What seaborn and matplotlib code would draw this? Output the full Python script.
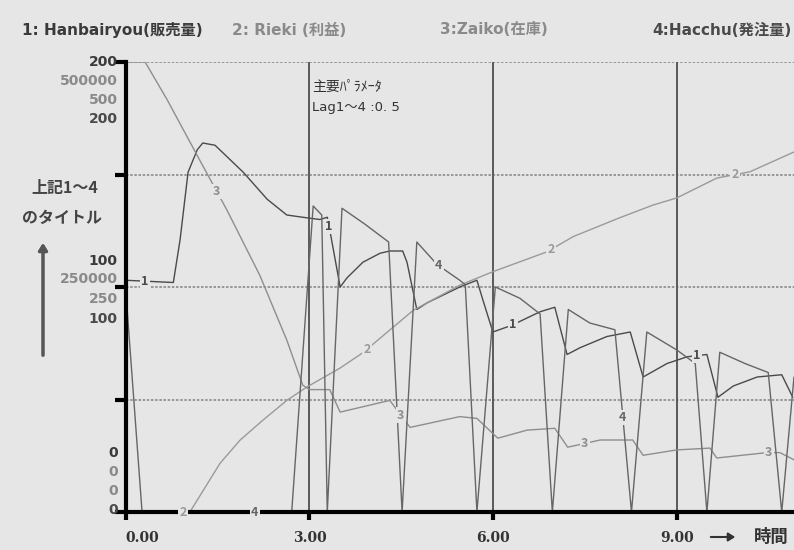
import matplotlib
matplotlib.use("Agg")
import matplotlib.pyplot as plt
import numpy as np
import pandas as pd
import seaborn as sns

# --- data (time, value in each series' own scale) ---
hanbai_t = [0.0, 0.78, 0.89, 1.02, 1.17, 1.26, 1.46, 1.92, 2.31, 2.63, 2.89, 3.17, 3.29, 3.34,
            3.50, 3.61, 3.87, 4.15, 4.31, 4.52, 4.59, 4.75, 4.92, 5.45, 5.73, 5.83, 5.99, 6.30,
            6.76, 7.00, 7.20, 7.41, 7.85, 8.23, 8.44, 8.83, 9.16, 9.48, 9.66, 9.91, 10.30, 10.70, 10.88]
hanbai_v = [103, 102, 121, 151, 161, 164, 163, 151, 139, 132, 131, 130, 131, 124,
            100, 104, 111, 115, 116, 116, 111, 90, 93, 100, 103, 94, 80, 83,
            89, 91, 70, 73, 78, 80, 60, 66, 69, 70, 51, 56, 60, 61, 51]

rieki_t = [0.0, 1.05, 1.54, 1.87, 2.24, 2.63, 2.96, 3.50, 3.87, 4.69, 5.45, 5.99, 6.87,
           7.30, 8.06, 8.60, 8.99, 9.64, 10.18, 10.90]
rieki_v = [0, 0, 54000, 80000, 102000, 124000, 139000, 160000, 177000, 224000, 252000, 267000, 289000,
           306000, 327000, 341000, 349000, 371000, 378000, 400000]

zaiko_t = [0.0, 0.32, 0.68, 1.21, 1.65, 2.19, 2.63, 2.89, 3.00, 3.33, 3.50, 4.31, 4.64, 5.45,
           5.73, 6.07, 6.55, 7.00, 7.21, 7.74, 8.27, 8.44, 8.99, 9.53, 9.64, 10.46, 10.67, 10.90]
zaiko_v = [500, 500, 458, 391, 336, 263, 191, 141, 136, 136, 111, 124, 94, 106,
           104, 82, 91, 93, 72, 80, 80, 63, 69, 71, 60, 66, 66, 58]

hacchu_t = [0.0, 0.27, 2.71, 3.06, 3.20, 3.29, 3.53, 3.90, 4.29, 4.51, 4.75, 5.08, 5.45, 5.54,
            5.73, 6.03, 6.43, 6.76, 6.96, 7.22, 7.57, 7.98, 8.25, 8.50, 8.99, 9.29, 9.48, 9.69,
            10.10, 10.48, 10.70, 10.90]
hacchu_v = [100, 0, 0, 136, 132, 0, 135, 128, 120, 0, 120, 110, 103, 101,
            0, 100, 95, 88, 0, 90, 84, 81, 0, 80, 72, 66, 0, 71,
            66, 62, 0, 60]

series_names = ["1: Hanbairyou(販売量)", "2: Rieki (利益)", "3:Zaiko(在庫)", "4:Hacchu(発注量)"]
scale_max = [200, 500000, 500, 200]
scale_mid = ["100", "250000", "250", "100"]
label_start = [0.32, 0.94, 1.49, 2.11]   # first "1".."4" marker on each line
time_ticks = [0, 3, 6, 9]

BG = "#e6e6e6"
line_colors = ["#4a4a4a", "#9a9a9a", "#8e8e8e", "#666666"]
text_colors = ["#3a3a3a", "#8a8a8a", "#8a8a8a", "#4a4a4a"]
MIXED = ["DejaVu Sans", "Noto Sans CJK JP"]

sns.set_theme(style="white")
plt.rcParams["font.family"] = ["Noto Sans CJK JP", "DejaVu Sans"]

fig = plt.figure(figsize=(7.94, 5.5), dpi=100, facecolor=BG)
ax = fig.add_axes([125.5 / 794, 38 / 550, (794 - 125.5) / 794, 450 / 550])
ax.set_facecolor(BG)

series = [(hanbai_t, hanbai_v), (rieki_t, rieki_v), (zaiko_t, zaiko_v), (hacchu_t, hacchu_v)]
xmax = (794 - 125.5) / 61.33

# grid first
for y in [0.25, 0.5, 0.75, 1.0]:
    ax.axhline(y, color="#8a8a8a", lw=1.2, ls=(0, (1.5, 1)), zorder=1)
for t in [3, 6, 9]:
    ax.axvline(t, color="#5a5a5a", lw=1.4, zorder=1)

for i, (t, v) in enumerate(series):
    df = pd.DataFrame({"t": t, "frac": np.array(v, dtype=float) / scale_max[i]})
    sns.lineplot(data=df, x="t", y="frac", ax=ax, color=line_colors[i], lw=1.0,
                 estimator=None, sort=False, zorder=2)
    lt = label_start[i]
    while lt < xmax:
        ly = np.interp(lt, t, v) / scale_max[i]
        ax.text(lt, ly, str(i + 1), ha="center", va="center", fontsize=9, fontweight="bold",
                color=line_colors[i], zorder=4,
                bbox=dict(boxstyle="square,pad=0.1", fc=BG, ec="none"))
        lt += 3

ax.set_xlim(0, xmax)
ax.set_ylim(0, 1)
for s in ["top", "right"]:
    ax.spines[s].set_visible(False)
for s in ["left", "bottom"]:
    ax.spines[s].set_color("black")
    ax.spines[s].set_linewidth(3)
ax.set_xlabel("")
ax.set_ylabel("")

ax.set_yticks([0, 0.25, 0.5, 0.75, 1.0])
ax.set_yticklabels([])
ax.tick_params(axis="y", left=True, length=8, width=3, color="black")
ax.set_xticks(time_ticks)
ax.set_xticklabels([f"{t:.2f}" for t in time_ticks], fontsize=10, fontweight="bold",
                   color="#333333", family="DejaVu Serif")
ax.tick_params(axis="x", bottom=True, length=6, width=3, color="black", pad=8)
ax.get_xticklabels()[0].set_horizontalalignment("left")

# stacked scale labels on the y axis (one per series)
ytr = ax.get_yaxis_transform()
top_off = [0, -14, -27.5, -41]
mid_off = [18.5, 6, -8.5, -23]
bot_off = [42.5, 29, 15, 1.5]
for i in range(4):
    for val, yy, offs in [(str(scale_max[i]), 1.0, top_off), (scale_mid[i], 0.5, mid_off),
                          ("0", 0.0, bot_off)]:
        ax.annotate(val, xy=(0, yy), xycoords=ytr, xytext=(-5.5, offs[i]),
                    textcoords="offset points", ha="right", va="center", fontsize=10,
                    fontweight="bold", color=text_colors[i], family="DejaVu Sans")

# header with the four series names
for i, x0 in enumerate([22, 232, 440, 652]):
    fig.text(x0 / 794, 1 - 30 / 550, series_names[i], fontsize=11, fontweight="bold",
             color=text_colors[i], ha="left", va="center", family=MIXED)

# parameter note inside the plot
ax.text(3.04, 0.944, "主要ﾊﾟﾗﾒｰﾀ", fontsize=10, color="#333333", ha="left", va="center")
ax.text(3.04, 0.898, "Lag1～4 :0. 5", fontsize=9.5, color="#333333", ha="left", va="center",
        family=MIXED)

# y title with upward arrow
fig.text(65 / 794, 1 - 188 / 550, "上記1～4", fontsize=11.5, fontweight="bold",
         color="#444444", ha="center", va="center")
fig.text(62 / 794, 1 - 218 / 550, "のタイトル", fontsize=11.5, fontweight="bold",
         color="#444444", ha="center", va="center")
fig.patches.append(matplotlib.patches.FancyArrowPatch(
    (43 / 794, 1 - 358 / 550), (43 / 794, 1 - 240 / 550), transform=fig.transFigure,
    arrowstyle="-|>,head_length=4,head_width=2.5", color="#555555", lw=2.5))

# time label with arrow
fig.patches.append(matplotlib.patches.FancyArrowPatch(
    (708 / 794, 1 - 537 / 550), (738 / 794, 1 - 537 / 550), transform=fig.transFigure,
    arrowstyle="-|>,head_length=4,head_width=2.5", color="#333333", lw=1.5))
fig.text(771 / 794, 1 - 537 / 550, "時間", fontsize=12.5, fontweight="bold",
         color="#333333", ha="center", va="center")

fig.savefig("out.png", dpi=100, facecolor=BG)
